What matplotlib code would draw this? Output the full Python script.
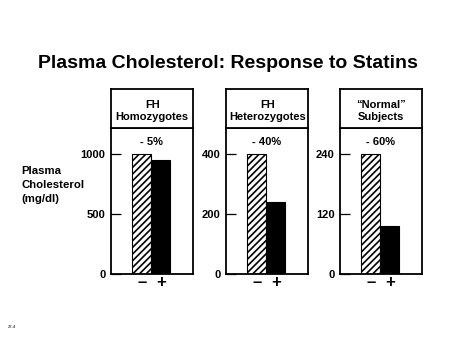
import matplotlib
matplotlib.use("Agg")
import matplotlib.pyplot as plt

plt.rcParams['font.family'] = ['Liberation Sans', 'DejaVu Sans']
plt.rcParams['font.weight'] = 'bold'
plt.rcParams['hatch.linewidth'] = 1.2

# plasma cholesterol (mg/dl) without (-) and with (+) statin treatment
groups = ["FH\nHomozygotes", "FH\nHeterozygotes", "\u201cNormal\u201d\nSubjects"]
untreated = [1000, 400, 240]
treated = [950, 240, 96]
yticks = [[0, 500, 1000], [0, 200, 400], [0, 120, 240]]
tick_labels = ["\u2013", "+"]

fig = plt.figure(figsize=(4.5, 3.38), dpi=100)
fig.patch.set_facecolor("white")

fig.text(0.507, 0.813, "Plasma Cholesterol: Response to Statins",
         ha="center", va="center", fontsize=14, fontweight="bold")
fig.text(0.048, 0.452, "Plasma\nCholesterol\n(mg/dl)", ha="left", va="center",
         fontsize=8.2, fontweight="bold", linespacing=1.5)
fig.text(0.018, 0.03, "27-4", fontsize=3, color="#555555")

lefts = [0.2467, 0.5022, 0.7556]
width = 0.183
bottom, height = 0.1893, 0.432
head_h = 0.1154

for i in range(3):
    ax = fig.add_axes([lefts[i], bottom, width, height])
    ax.bar(0, untreated[i], width=1, color="white", edgecolor="black",
           hatch="/////", linewidth=0.8)
    ax.bar(1, treated[i], width=1, color="black", edgecolor="black", linewidth=0.8)
    top = yticks[i][-1]
    ax.set_ylim(0, top * 1.217)
    ax.set_xlim(-1.63, 2.72)
    ax.set_yticks(yticks[i])
    ax.set_yticklabels([str(t) for t in yticks[i]], fontsize=8, fontweight="bold")
    ax.tick_params(axis="y", direction="in", length=7, width=0.9, pad=4)
    ax.set_xticks([0, 1])
    ax.set_xticklabels(tick_labels, fontsize=12, fontweight="bold")
    ax.tick_params(axis="x", length=0, pad=1)
    for s in ax.spines.values():
        s.set_linewidth(1.3)

    drop = round(100 * (1 - treated[i] / untreated[i]))
    ax.text(0.5, top * 1.10, f"- {drop}%", ha="center", va="center",
            fontsize=8, fontweight="bold")

    hax = fig.add_axes([lefts[i], bottom + height, width, head_h])
    hax.set_xticks([])
    hax.set_yticks([])
    for s in hax.spines.values():
        s.set_linewidth(1.3)
    hax.text(0.5, 0.43, groups[i], ha="center", va="center", fontsize=8,
             fontweight="bold", linespacing=1.3, transform=hax.transAxes)

fig.savefig("out.png", dpi=100, facecolor="white")
